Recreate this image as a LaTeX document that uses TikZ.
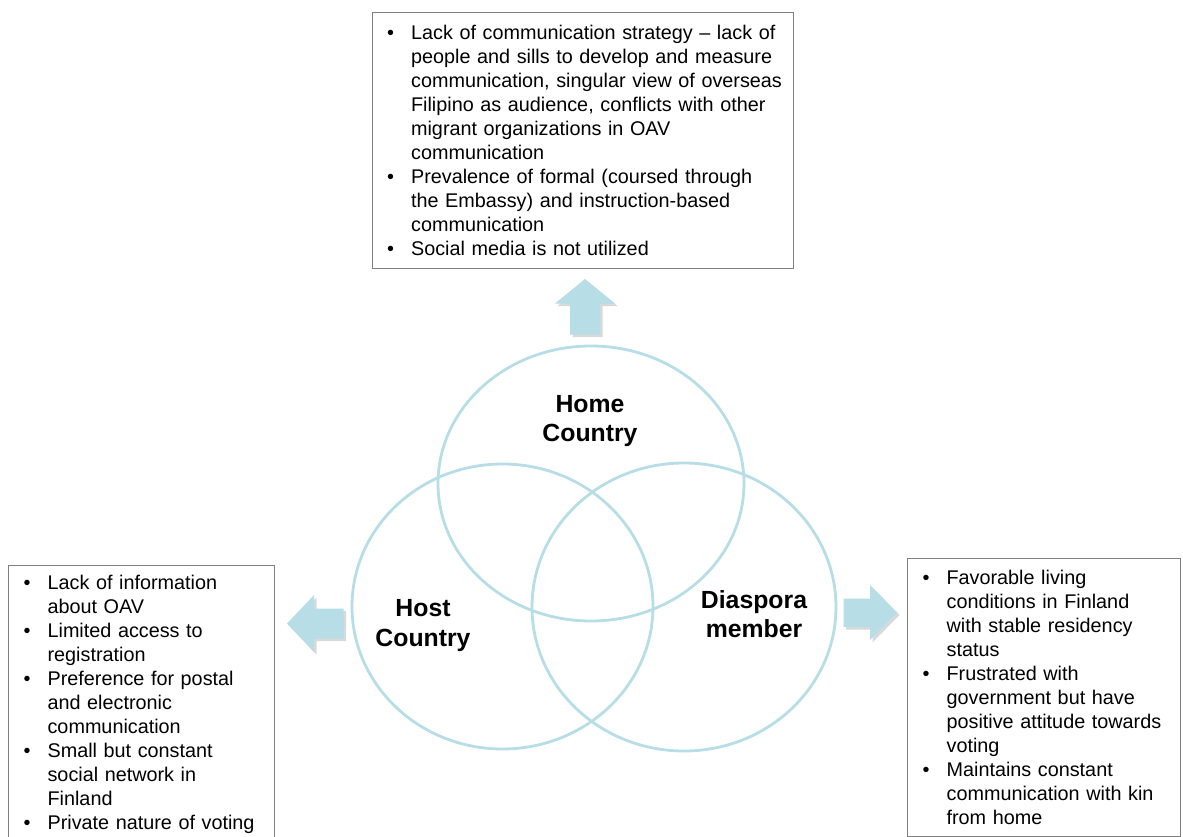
\documentclass[tikz,border=0pt]{standalone}
\usepackage{fontspec}
\setmainfont{Liberation Sans}
\usetikzlibrary{shapes.geometric, shadows, positioning}
\definecolor{vennblue}{RGB}{183, 221, 230}
\definecolor{boxgray}{RGB}{128, 128, 128}

% one bullet line and one continuation line of a list box
\newcommand{\bul}[1]{\mbox{\makebox[24pt][l]{\textbullet}#1}}
\newcommand{\cnt}[1]{\mbox{\hspace*{24pt}#1}}

\begin{document}
\begin{tikzpicture}[
    x=1pt, y=-1pt,
    venn/.style={ellipse, draw=vennblue, line width=2.8pt, inner sep=0pt},
    label/.style={align=center, font=\fontsize{24.8}{29.5}\selectfont\bfseries},
    infobox/.style={rectangle, draw=boxgray, line width=1.2pt, fill=white, anchor=north west,
        inner xsep=15pt, inner ysep=0pt, align=left, font=\fontsize{19.8}{24}\selectfont},
    blockarrow/.style={fill=vennblue, draw=none,
        drop shadow={shadow xshift=2.5pt, shadow yshift=-2.5pt, opacity=0.3}}
]
    \useasboundingbox (0,0) rectangle (1183,837);

    % the three sets
    \node[venn, minimum width=306pt, minimum height=275pt] (home) at (591,483.5) {};
    \node[venn, minimum width=301pt, minimum height=285pt] (host) at (502.5,606.5) {};
    \node[venn, minimum width=304pt, minimum height=288pt] (diaspora) at (684,607) {};

    \node[label] (homelabel) at (590,421) {Home\\Country};
    \node[label] (hostlabel) at (423,625.6) {Host\\Country};
    \node[label] (diasporalabel) at (754,614.3) {Diaspora\\member};

    % arrows out to the boxes
    \path[blockarrow] (585,279) -- (615,303.5) -- (600,303.5) -- (600,334.5)
        -- (570,334.5) -- (570,303.5) -- (555,303.5) -- cycle;
    \path[blockarrow] (287,623.5) -- (314,595) -- (314,608.5) -- (343.5,608.5)
        -- (343.5,638.5) -- (314,638.5) -- (314,652) -- cycle;
    \path[blockarrow] (897,612.5) -- (870,585) -- (870,598.5) -- (843.5,598.5)
        -- (843.5,627) -- (870,627) -- (870,640) -- cycle;

    % findings per side
    \node[infobox, text width=391pt, minimum height=255.5pt] (homebox) at (371.5,12) {%
        \bul{Lack of communication strategy – lack of}\\
        \cnt{people and sills to develop and measure}\\
        \cnt{communication, singular view of overseas}\\
        \cnt{Filipino as audience, conflicts with other}\\
        \cnt{migrant organizations in OAV}\\
        \cnt{communication}\\
        \bul{Prevalence of formal (coursed through}\\
        \cnt{the Embassy) and instruction-based}\\
        \cnt{communication}\\
        \bul{Social media is not utilized}};

    \node[infobox, text width=236pt, minimum height=279pt] (hostbox) at (8,564.5) {%
        \bul{Lack of information}\\
        \cnt{about OAV}\\
        \bul{Limited access to}\\
        \cnt{registration}\\
        \bul{Preference for postal}\\
        \cnt{and electronic}\\
        \cnt{communication}\\
        \bul{Small but constant}\\
        \cnt{social network in}\\
        \cnt{Finland}\\
        \bul{Private nature of voting}};

    \node[infobox, text width=243pt, minimum height=278pt] (diasporabox) at (907,558) {%
        \bul{Favorable living}\\
        \cnt{conditions in Finland}\\
        \cnt{with stable residency}\\
        \cnt{status}\\
        \bul{Frustrated with}\\
        \cnt{government but have}\\
        \cnt{positive attitude towards}\\
        \cnt{voting}\\
        \bul{Maintains constant}\\
        \cnt{communication with kin}\\
        \cnt{from home}};

\end{tikzpicture}
\end{document}
